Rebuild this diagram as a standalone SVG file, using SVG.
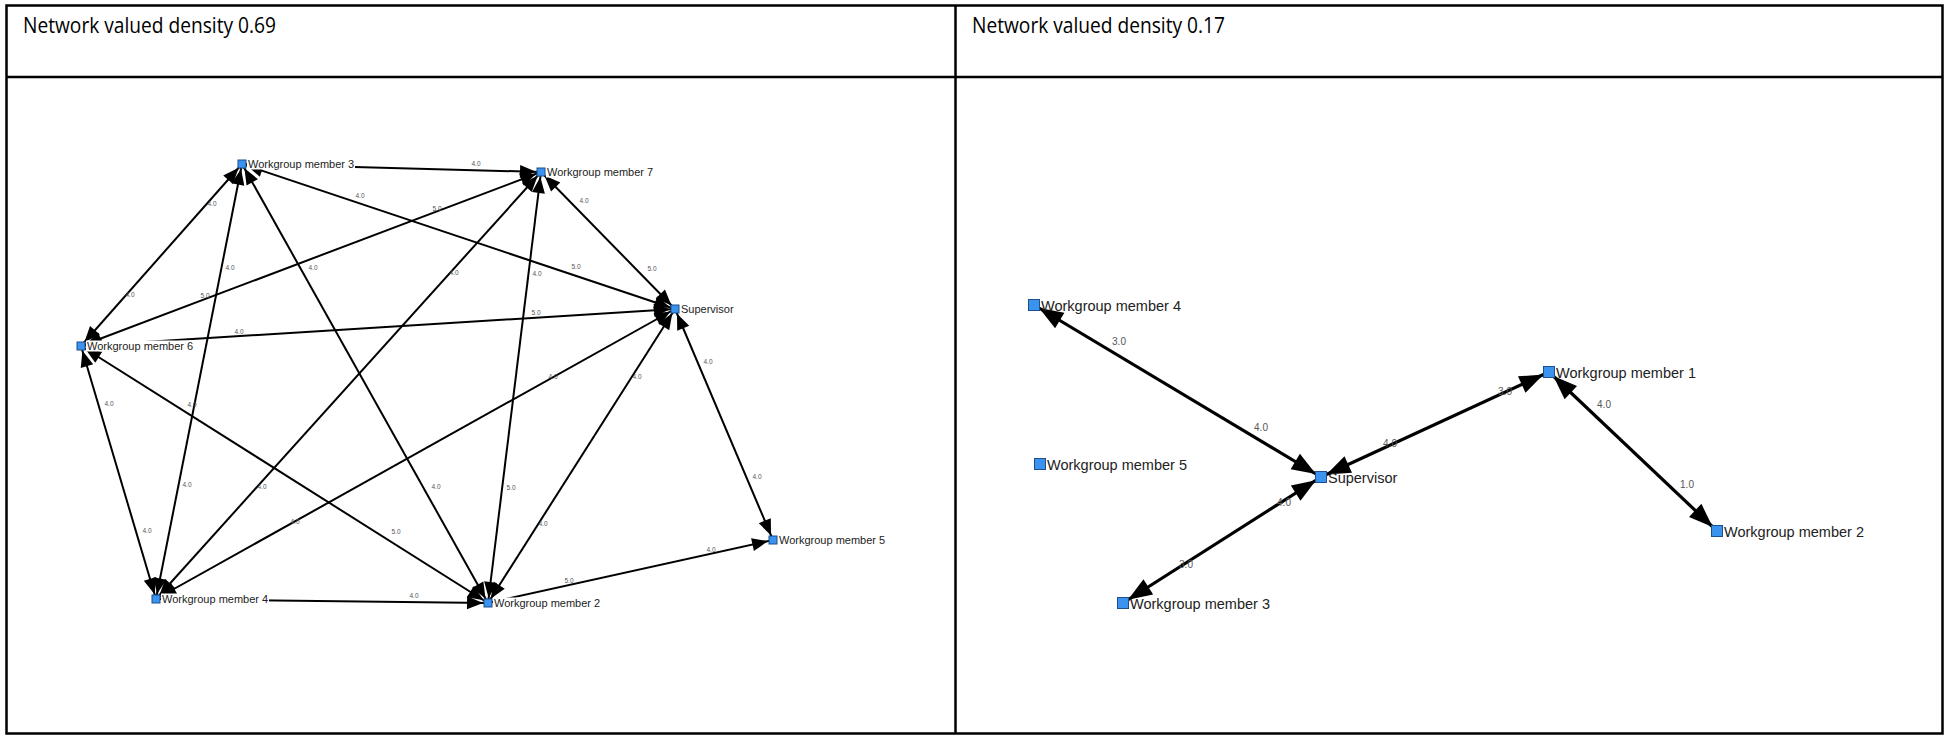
<svg xmlns="http://www.w3.org/2000/svg" width="1948" height="736" viewBox="0 0 1948 736">
<style>
.frame{fill:none;stroke:#000;stroke-width:2.5}
.title{font-family:"Open Sans","Liberation Sans",sans-serif;font-size:22.5px;fill:#000}
.e{stroke:#000;stroke-width:2;fill:none}
.r{stroke:#000;stroke-width:3.2;fill:none}
.el{font-family:"Liberation Sans",Arial,sans-serif;font-size:6.5px;fill:#555;text-anchor:middle}
.rl{font-family:"Liberation Sans",Arial,sans-serif;font-size:10px;fill:#555;text-anchor:middle}
.sq{fill:#3a93ee;stroke:#1c4f8c;stroke-width:1}
.nl{font-family:"Liberation Sans",Arial,sans-serif;font-size:11px;fill:#222}
.nr{font-family:"Liberation Sans",Arial,sans-serif;font-size:14.5px;fill:#222}
.bg{fill:#fff}
</style>
<defs>
<marker id="aL" markerUnits="userSpaceOnUse" markerWidth="17" markerHeight="13" refX="21" refY="6.5" orient="auto-start-reverse" overflow="visible"><path d="M0,0 L16,6.5 L0,13 z" fill="#000"/></marker>
<marker id="aR" markerUnits="userSpaceOnUse" markerWidth="26" markerHeight="18" refX="30" refY="9" orient="auto-start-reverse" overflow="visible"><path d="M0,0 L24,9 L0,18 z" fill="#000"/></marker>
</defs>
<rect width="1948" height="736" fill="#fff"/>
<g id="table">
<rect class="frame" x="6.5" y="5.5" width="1936" height="728"/>
<line class="frame" x1="6.5" y1="77" x2="1942.5" y2="77"/>
<line class="frame" x1="955.5" y1="5.5" x2="955.5" y2="733.5"/>
<text class="title" x="23" y="33" textLength="253" lengthAdjust="spacingAndGlyphs">Network valued density 0.69</text>
<text class="title" x="972" y="33" textLength="253" lengthAdjust="spacingAndGlyphs">Network valued density 0.17</text>
</g>
<g id="connectors-left">
<line class="e" x1="242" y1="164" x2="541" y2="172" marker-end="url(#aL)"/>
<line class="e" x1="242" y1="164" x2="81" y2="346" marker-start="url(#aL)" marker-end="url(#aL)"/>
<line class="e" x1="242" y1="164" x2="156" y2="599" marker-start="url(#aL)" marker-end="url(#aL)"/>
<line class="e" x1="242" y1="164" x2="488" y2="603" marker-start="url(#aL)" marker-end="url(#aL)"/>
<line class="e" x1="242" y1="164" x2="675" y2="309" marker-start="url(#aL)" marker-end="url(#aL)"/>
<line class="e" x1="81" y1="346" x2="541" y2="172" marker-start="url(#aL)" marker-end="url(#aL)"/>
<line class="e" x1="156" y1="599" x2="541" y2="172" marker-start="url(#aL)" marker-end="url(#aL)"/>
<line class="e" x1="488" y1="603" x2="541" y2="172" marker-start="url(#aL)" marker-end="url(#aL)"/>
<line class="e" x1="675" y1="309" x2="541" y2="172" marker-start="url(#aL)" marker-end="url(#aL)"/>
<line class="e" x1="81" y1="346" x2="675" y2="309" marker-start="url(#aL)" marker-end="url(#aL)"/>
<line class="e" x1="156" y1="599" x2="675" y2="309" marker-start="url(#aL)" marker-end="url(#aL)"/>
<line class="e" x1="488" y1="603" x2="675" y2="309" marker-start="url(#aL)" marker-end="url(#aL)"/>
<line class="e" x1="675" y1="309" x2="773" y2="540" marker-start="url(#aL)" marker-end="url(#aL)"/>
<line class="e" x1="81" y1="346" x2="488" y2="603" marker-start="url(#aL)" marker-end="url(#aL)"/>
<line class="e" x1="81" y1="346" x2="156" y2="599" marker-start="url(#aL)" marker-end="url(#aL)"/>
<line class="e" x1="156" y1="599" x2="488" y2="603" marker-end="url(#aL)"/>
<line class="e" x1="488" y1="603" x2="773" y2="540" marker-end="url(#aL)"/>
<text class="el" x="476" y="166">4.0</text>
<text class="el" x="212" y="206">4.0</text>
<text class="el" x="130" y="297">4.0</text>
<text class="el" x="230" y="270">4.0</text>
<text class="el" x="187" y="487">4.0</text>
<text class="el" x="313" y="270">4.0</text>
<text class="el" x="436" y="489">4.0</text>
<text class="el" x="360" y="198">4.0</text>
<text class="el" x="576" y="269">5.0</text>
<text class="el" x="205" y="298">5.0</text>
<text class="el" x="437" y="211">5.0</text>
<text class="el" x="262" y="489">4.0</text>
<text class="el" x="454" y="275">4.0</text>
<text class="el" x="511" y="490">5.0</text>
<text class="el" x="537" y="276">4.0</text>
<text class="el" x="584" y="203">4.0</text>
<text class="el" x="652" y="271">5.0</text>
<text class="el" x="239" y="334">4.0</text>
<text class="el" x="536" y="315">5.0</text>
<text class="el" x="295" y="524">4.0</text>
<text class="el" x="553" y="379">4.0</text>
<text class="el" x="543" y="526">4.0</text>
<text class="el" x="637" y="379">4.0</text>
<text class="el" x="708" y="364">4.0</text>
<text class="el" x="757" y="479">4.0</text>
<text class="el" x="192" y="407">4.0</text>
<text class="el" x="396" y="534">5.0</text>
<text class="el" x="109" y="406">4.0</text>
<text class="el" x="147" y="533">4.0</text>
<text class="el" x="414" y="598">4.0</text>
<text class="el" x="569" y="583">5.0</text>
<text class="el" x="711" y="552">4.0</text>
</g>
<g id="L-member3"><rect class="bg" x="247" y="158.5" width="108" height="11"/><rect class="sq" x="238" y="160" width="8" height="8"/><text class="nl" x="248" y="168">Workgroup member 3</text></g>
<g id="L-member7"><rect class="bg" x="546" y="166.5" width="108" height="11"/><rect class="sq" x="537" y="168" width="8" height="8"/><text class="nl" x="547" y="176">Workgroup member 7</text></g>
<g id="L-supervisor"><rect class="bg" x="680" y="303.5" width="55" height="11"/><rect class="sq" x="671" y="305" width="8" height="8"/><text class="nl" x="681" y="313">Supervisor</text></g>
<g id="L-member6"><rect class="bg" x="86" y="340.5" width="108" height="11"/><rect class="sq" x="77" y="342" width="8" height="8"/><text class="nl" x="87" y="350">Workgroup member 6</text></g>
<g id="L-member5"><rect class="bg" x="778" y="534.5" width="108" height="11"/><rect class="sq" x="769" y="536" width="8" height="8"/><text class="nl" x="779" y="544">Workgroup member 5</text></g>
<g id="L-member4"><rect class="bg" x="161" y="593.5" width="108" height="11"/><rect class="sq" x="152" y="595" width="8" height="8"/><text class="nl" x="162" y="603">Workgroup member 4</text></g>
<g id="L-member2"><rect class="bg" x="493" y="597.5" width="108" height="11"/><rect class="sq" x="484" y="599" width="8" height="8"/><text class="nl" x="494" y="607">Workgroup member 2</text></g>
<g id="connectors-right">
<line class="r" x1="1034" y1="305" x2="1321" y2="477" marker-start="url(#aR)" marker-end="url(#aR)"/>
<line class="r" x1="1321" y1="477" x2="1549" y2="372" marker-start="url(#aR)" marker-end="url(#aR)"/>
<line class="r" x1="1549" y1="372" x2="1717" y2="531" marker-start="url(#aR)" marker-end="url(#aR)"/>
<line class="r" x1="1321" y1="477" x2="1123" y2="603" marker-start="url(#aR)" marker-end="url(#aR)"/>
<text class="rl" x="1119" y="344.5">3.0</text>
<text class="rl" x="1261" y="430.5">4.0</text>
<text class="rl" x="1390" y="446.5">4.0</text>
<text class="rl" x="1505" y="394.5">3.0</text>
<text class="rl" x="1604" y="407.5">4.0</text>
<text class="rl" x="1687" y="487.5">1.0</text>
<text class="rl" x="1284" y="505.5">4.0</text>
<text class="rl" x="1186" y="567.5">3.0</text>
</g>
<g id="R-member4"><rect class="sq" x="1028.5" y="299.5" width="11" height="11"/><text class="nr" x="1041" y="311">Workgroup member 4</text></g>
<g id="R-member5"><rect class="sq" x="1034.5" y="458.5" width="11" height="11"/><text class="nr" x="1047" y="470">Workgroup member 5</text></g>
<g id="R-supervisor"><rect class="sq" x="1315.5" y="471.5" width="11" height="11"/><text class="nr" x="1328" y="483">Supervisor</text></g>
<g id="R-member1"><rect class="sq" x="1543.5" y="366.5" width="11" height="11"/><text class="nr" x="1556" y="378">Workgroup member 1</text></g>
<g id="R-member2"><rect class="sq" x="1711.5" y="525.5" width="11" height="11"/><text class="nr" x="1724" y="537">Workgroup member 2</text></g>
<g id="R-member3"><rect class="sq" x="1117.5" y="597.5" width="11" height="11"/><text class="nr" x="1130" y="609">Workgroup member 3</text></g>
</svg>
